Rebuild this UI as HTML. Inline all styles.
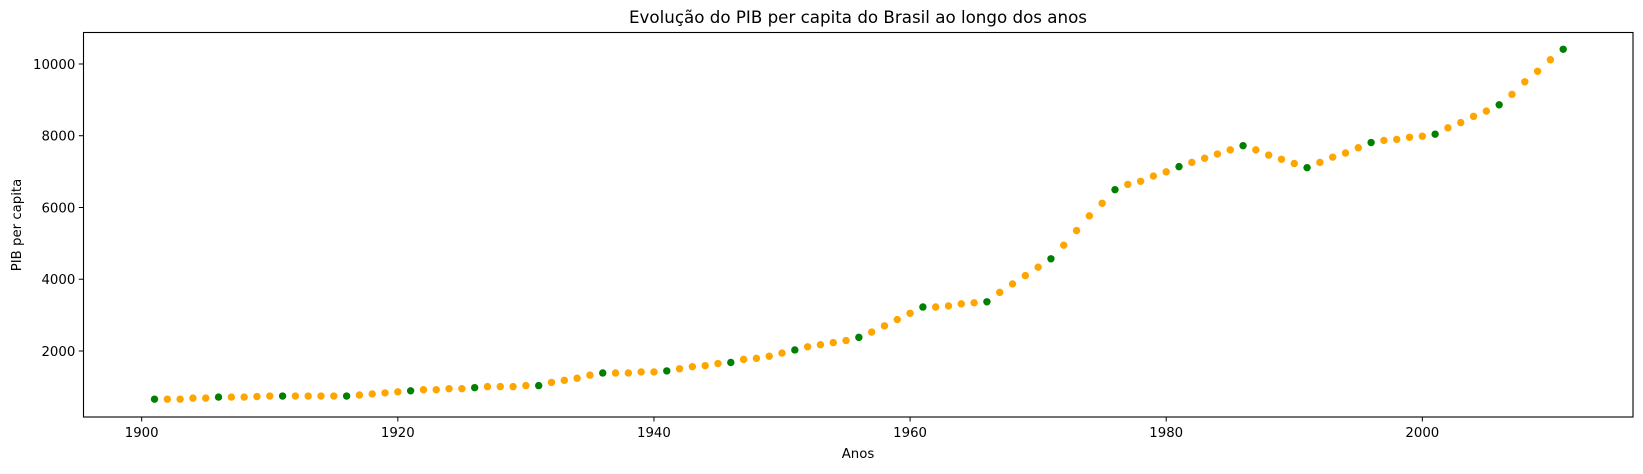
<!DOCTYPE html>
<html><head><meta charset="utf-8"><style>
body{margin:0;background:#fff;font-family:"DejaVu Sans","Liberation Sans",sans-serif;}
svg text{font-family:"DejaVu Sans","Liberation Sans",sans-serif;font-size:13.3px;fill:#000;}
</style></head><body>
<svg id="c" width="1643" height="470">
<rect x="83.5" y="32.5" width="1549.5" height="384.5" fill="none" stroke="#000" stroke-width="1.1"/>
<text x="858" y="23" text-anchor="middle" style="font-size:16.7px">Evolução do PIB per capita do Brasil ao longo dos anos</text>
<text x="858" y="458" text-anchor="middle">Anos</text>
<text x="21" y="225" text-anchor="middle" transform="rotate(-90 21 225)">PIB per capita</text>
<g id="g"></g>
</svg>
<script>
const years=[];for(let y=1901;y<=2011;y++)years.push(y);
const pib=[657,657,657,686,686,715,715,715,730,744,744,744,744,744,744,744,774,803,832,861,890,920,920,949,949,978,1007,1007,1007,1036,1036,1124,1182,1241,1328,1387,1387,1387,1416,1416,1445,1504,1562,1591,1650,1679,1766,1796,1854,1942,2029,2117,2175,2234,2292,2380,2526,2701,2876,3051,3226,3226,3256,3314,3343,3372,3635,3869,4102,4336,4570,4949,5358,5767,6117,6497,6643,6730,6876,6993,7139,7256,7373,7490,7606,7723,7606,7460,7344,7227,7110,7256,7402,7519,7665,7811,7869,7898,7957,7986,8044,8220,8366,8541,8687,8862,9154,9504,9796,10118,10410];
const xTicks=[1900,1920,1940,1960,1980,2000];
const yTicks=[2000,4000,6000,8000,10000];
const L=83.3,R=1633,T=32.7,B=417,xmin=1895.44,xmax=2016.45,ymin=160,ymax=10872;
const sx=v=>L+(v-xmin)/(xmax-xmin)*(R-L);
const sy=v=>B-(v-ymin)/(ymax-ymin)*(B-T);
const g=document.getElementById('g');const NS='http://www.w3.org/2000/svg';
function mk(t,a){const e=document.createElementNS(NS,t);for(const k in a)e.setAttribute(k,a[k]);g.appendChild(e);return e;}
xTicks.forEach(t=>{const x=sx(t);
const l=mk('line',{x1:x,x2:x,y1:B,y2:B+4.5,stroke:'#000'});


const tx=mk('text',{x:x,y:B+20,'text-anchor':'middle'});tx.textContent=t;

});
yTicks.forEach(t=>{const y=sy(t);
const l=mk('line',{x1:L-4.5,x2:L,y1:y,y2:y,stroke:'#000'});


const tx=mk('text',{x:L-8,y:y+5,'text-anchor':'end'});tx.textContent=t;

});
years.forEach((yr,i)=>{
const c=mk('circle',{cx:sx(yr),cy:sy(pib[i]),r:3.7,fill:(yr-1901)%5===0?'#008000':'#ffa500'});

});
</script>
</body></html>
